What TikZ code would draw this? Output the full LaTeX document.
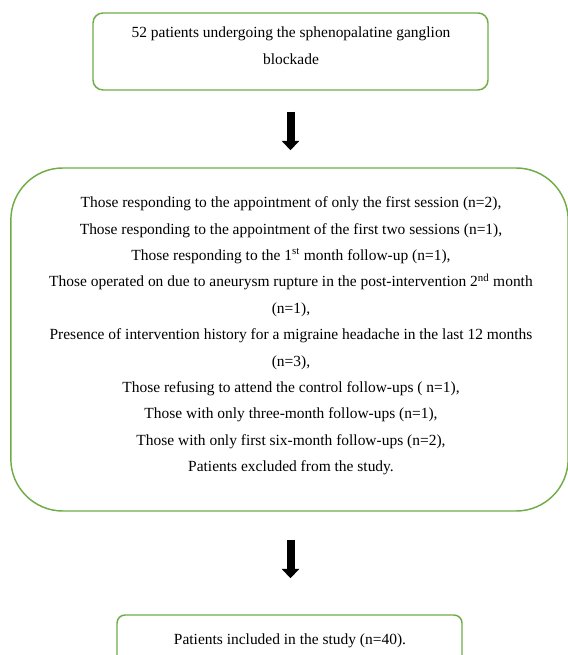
\documentclass[tikz,border=0pt]{standalone}
\usepackage{fontspec}
\setmainfont{Liberation Serif}
\usetikzlibrary{arrows.meta}
\definecolor{boxgreen}{RGB}{112,173,71}
\tikzset{
  gbox/.style={draw=boxgreen, line width=1.1pt, fill=none, inner sep=0pt},
  txt/.style={align=center, inner sep=0pt, font=\fontsize{11.6}{19.8}\selectfont},
  bigarrow/.style={line width=6pt, -{Triangle[width=12.75pt,length=7pt]}}
}
\begin{document}
\begin{tikzpicture}[x=0.75pt,y=-0.75pt]
\useasboundingbox (0,0) rectangle (567,655);
\fill[white] (0,0) rectangle (567,655);
% boxes
\node[gbox, rounded corners=7.5pt, minimum width=296.25pt, minimum height=57.75pt] (b1) at (290.5,51.5) {};
\node[gbox, rounded corners=39pt, minimum width=418pt, minimum height=257.25pt] (b2) at (289.5,339.5) {};
\node[gbox, rounded corners=6pt, minimum width=258.75pt, minimum height=45pt] (b3) at (289.5,645) {};
% texts
\node[txt, font=\fontsize{11.6}{20.5}\selectfont] (t1) at (291,46) {52 patients undergoing the sphenopalatine ganglion\\blockade};
\node[txt] (t2) at (291,336) {Those responding to the appointment of only the first session (n=2),\\
Those responding to the appointment of the first two sessions (n=1),\\
Those responding to the 1\textsuperscript{st} month follow-up (n=1),\\
Those operated on due to aneurysm rupture in the post-intervention 2\textsuperscript{nd} month\\
(n=1),\\
Presence of intervention history for a migraine headache in the last 12 months\\
(n=3),\\
Those refusing to attend the control follow-ups ( n=1),\\
Those with only three-month follow-ups (n=1),\\
Those with only first six-month follow-ups (n=2),\\
Patients excluded from the study.};
\node[txt] (t3) at (290,641) {Patients included in the study (n=40).};
% arrows
\draw[bigarrow, shorten <=15.75pt, shorten >=12.75pt] (b1.south) -- (b1.south |- b2.north);
\draw[bigarrow, shorten <=21pt, shorten >=27pt] (b1.south |- b2.south) -- (b1.south |- b3.north);
\end{tikzpicture}
\end{document}
